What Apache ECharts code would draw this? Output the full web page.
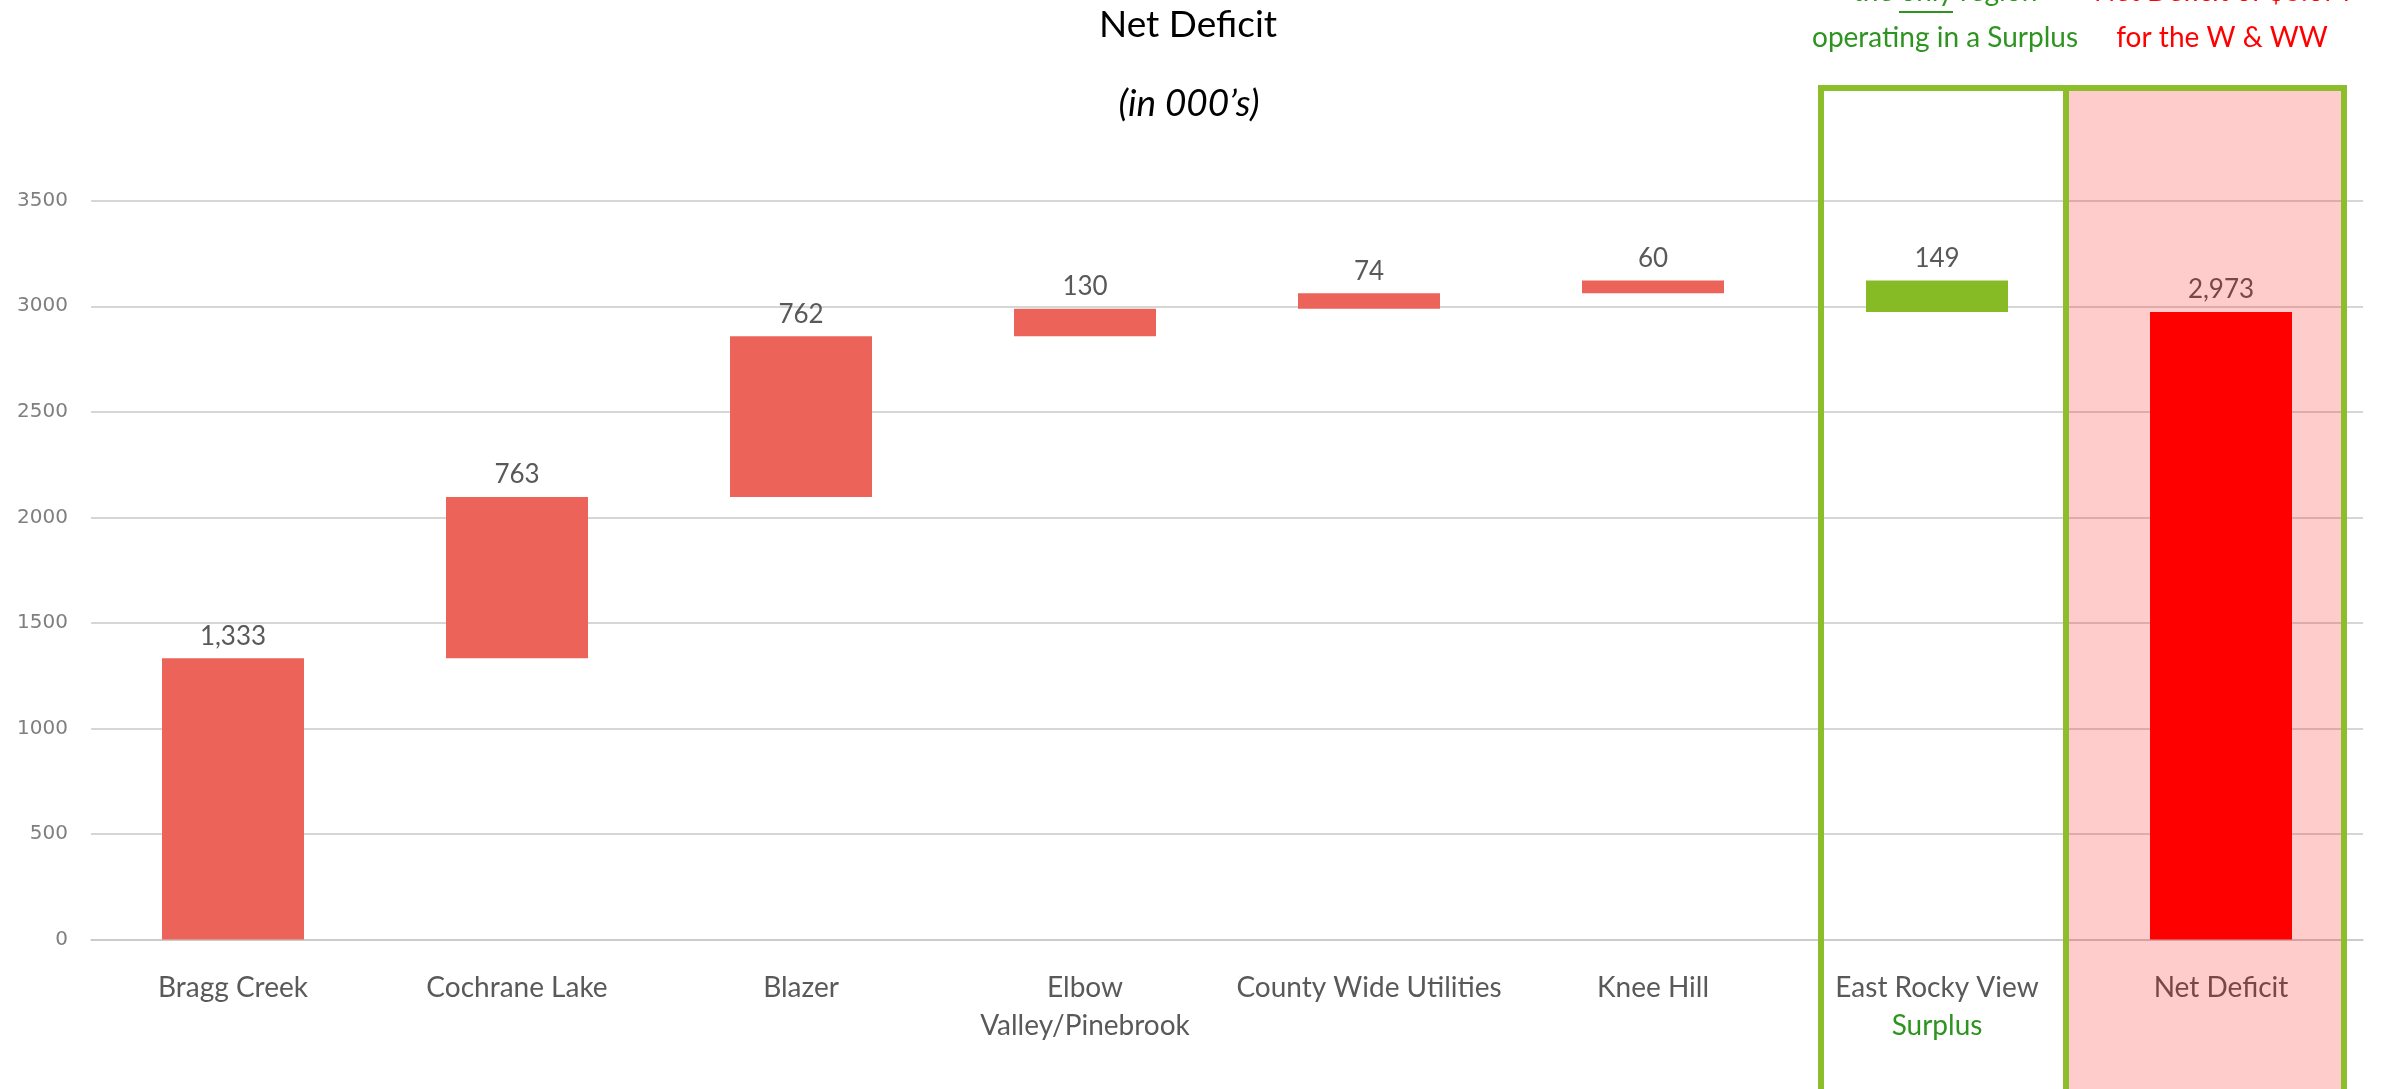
<!DOCTYPE html>
<html>
<head>
<meta charset="utf-8">
<script src="https://cdn.jsdelivr.net/npm/echarts@6/dist/echarts.min.js"></script>
<style>
  html, body { margin: 0; padding: 0; background: #ffffff; }
  #chart { width: 2384px; height: 1089px; }
</style>
</head>
<body>
<div id="chart"></div>
<script>
// ---- data ----
const categories = ['Bragg Creek', 'Cochrane Lake', 'Blazer', 'Elbow\nValley/Pinebrook',
  'County Wide Utilities', 'Knee Hill', 'East Rocky View\nSurplus', 'Net Deficit'];
const values = [1333, 763, 762, 130, 74, 60, 149, 2973];
const kinds = ['deficit', 'deficit', 'deficit', 'deficit', 'deficit', 'deficit', 'surplus', 'total'];
const yTicks = [0, 500, 1000, 1500, 2000, 2500, 3000, 3500];

const titleText = 'Net Deficit';
const subtitleText = '(in 000\u2019s)';
const greenNote = ['the only region', 'operating in a Surplus'];
const redNote = ['Net Deficit of $3.0M', 'for the W & WW'];

// ---- waterfall bases (from values) ----
const bases = [];
let running = 0;
values.forEach((v, i) => {
  if (kinds[i] === 'deficit') { bases.push(running); running += v; }
  else if (kinds[i] === 'surplus') { running -= v; bases.push(running); }
  else { bases.push(0); }
});

const colorFor = { deficit: '#EB6359', surplus: '#87BB26', total: '#FF0000' };
const FONT = 'Lato';
const GREEN_TXT = '#2E9420';

const chart = echarts.init(document.getElementById('chart'), null, { renderer: 'canvas' });

const option = {
  animation: false,
  backgroundColor: '#ffffff',
  grid: { left: 91, right: 21, top: 200.7, bottom: 149.4, containLabel: false },
  xAxis: {
    type: 'category',
    data: categories,
    axisLine: { show: true, lineStyle: { color: '#C8C8C8', width: 1.5 } },
    axisTick: { show: false },
    axisLabel: {
      interval: 0,
      margin: 29,
      fontFamily: FONT,
      fontSize: 28,
      lineHeight: 38,
      color: '#595959',
      formatter: function (v) {
        return v.replace('Surplus', '{g|Surplus}');
      },
      rich: {
        g: { color: GREEN_TXT, fontFamily: FONT, fontSize: 28, lineHeight: 38 }
      }
    }
  },
  yAxis: {
    type: 'value',
    min: yTicks[0],
    max: yTicks[yTicks.length - 1],
    interval: yTicks[1] - yTicks[0],
    axisLine: { show: false },
    axisTick: { show: false },
    axisLabel: { margin: 23, fontFamily: 'DejaVu Sans', fontSize: 20, color: '#7F7F7F',
                 formatter: v => String(v) },
    splitLine: { lineStyle: { color: '#C8C8C8', width: 1.5 } }
  },
  series: [
    {
      type: 'bar',
      stack: 'w',
      data: bases,
      itemStyle: { color: 'transparent' },
      emphasis: { disabled: true },
      barCategoryGap: '50%',
      silent: true
    },
    {
      type: 'bar',
      stack: 'w',
      barCategoryGap: '50%',
      data: values.map((v, i) => ({ value: v, itemStyle: { color: colorFor[kinds[i]] } })),
      label: {
        show: true,
        position: 'top',
        distance: 9,
        fontFamily: FONT,
        fontSize: 26,
        color: '#595959',
        formatter: p => p.value.toLocaleString('en-US')
      }
    }
  ],
  graphic: [
    // titles
    { type: 'text', z: 110,
      style: { text: titleText, x: 1188, y: 25, align: 'center', verticalAlign: 'middle',
               font: '37px Lato', fill: '#000000' } },
    { type: 'text', z: 110,
      style: { text: subtitleText, x: 1189, y: 104, align: 'center', verticalAlign: 'middle',
               font: 'italic 37px Lato', fill: '#000000' } },
    // pink overlay on Net Deficit column
    { type: 'rect', z: 100, silent: true,
      shape: { x: 2066, y: 88, width: 278, height: 1010 },
      style: { fill: 'rgba(255,0,0,0.2)' } },
    // green frames
    { type: 'rect', z: 101, silent: true,
      shape: { x: 1821, y: 88, width: 245, height: 1020 },
      style: { fill: 'none', stroke: '#8CBD2B', lineWidth: 6 } },
    { type: 'rect', z: 101, silent: true,
      shape: { x: 2066, y: 88, width: 278, height: 1020 },
      style: { fill: 'none', stroke: '#8CBD2B', lineWidth: 6 } },
    // green note
    { type: 'text', z: 110,
      style: { text: greenNote[0], x: 1945, y: -8, align: 'center', verticalAlign: 'middle',
               font: '28px Lato', fill: GREEN_TXT } },
    { type: 'line', z: 110,
      shape: { x1: 1899, y1: 12, x2: 1953, y2: 12 },
      style: { stroke: GREEN_TXT, lineWidth: 2 } },
    { type: 'text', z: 110,
      style: { text: greenNote[1], x: 1945, y: 38, align: 'center', verticalAlign: 'middle',
               font: '28px Lato', fill: GREEN_TXT } },
    // red note
    { type: 'text', z: 110,
      style: { text: redNote[0], x: 2222, y: -8, align: 'center', verticalAlign: 'middle',
               font: '28px Lato', fill: '#FF0000' } },
    { type: 'text', z: 110,
      style: { text: redNote[1], x: 2222, y: 38, align: 'center', verticalAlign: 'middle',
               font: '28px Lato', fill: '#FF0000' } }
  ]
};

chart.setOption(option);
</script>
</body>
</html>
